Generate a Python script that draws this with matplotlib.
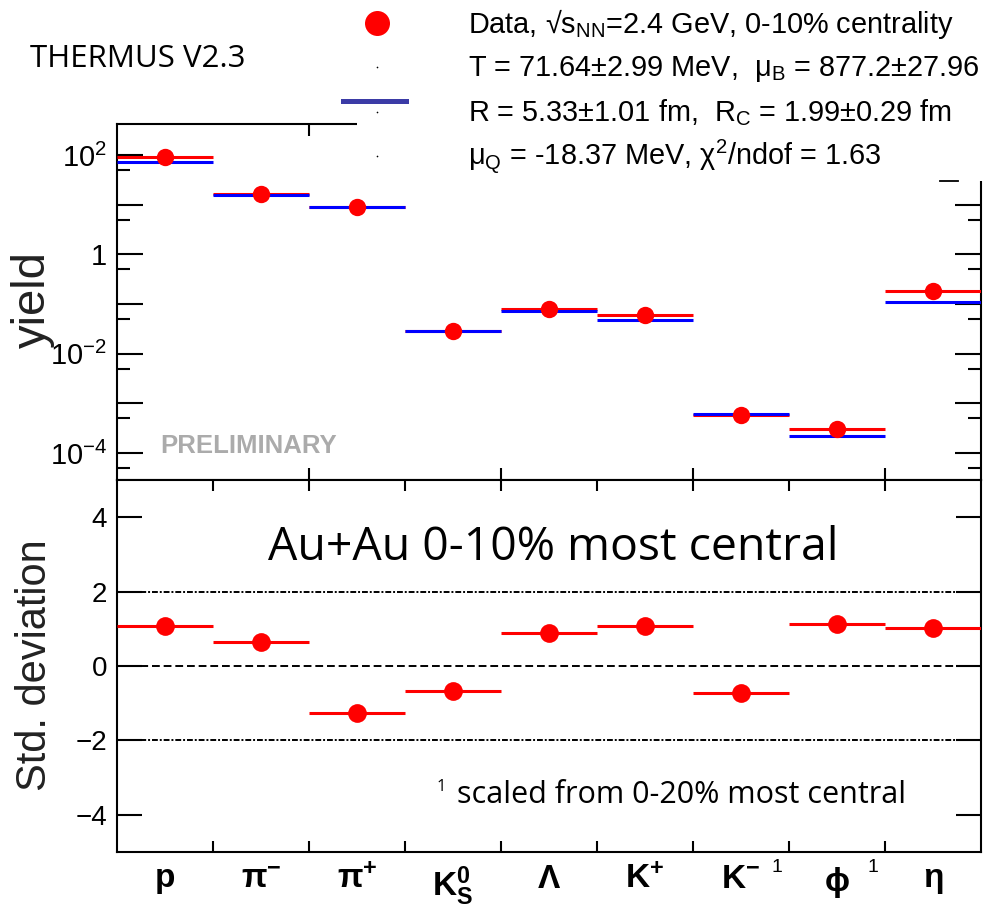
import numpy as np
import matplotlib
matplotlib.use("Agg")
import matplotlib.pyplot as plt
from matplotlib.patches import Rectangle
from matplotlib.lines import Line2D
from matplotlib.ticker import FixedLocator, NullFormatter

plt.rcParams['font.family'] = ['Liberation Sans', 'DejaVu Sans']
plt.rcParams['mathtext.fontset'] = 'custom'
plt.rcParams['mathtext.rm'] = 'Liberation Sans'
plt.rcParams['mathtext.it'] = 'Liberation Sans:italic'
plt.rcParams['mathtext.bf'] = 'Liberation Sans:bold'
plt.rcParams['mathtext.default'] = 'regular'

# particle species (one bin each)
particles = [r'$\mathbf{p}$', r'$\mathbf{\pi^{-}}$', r'$\mathbf{\pi^{+}}$',
             r'$\mathbf{K^{0}_{S}}$', r'$\mathbf{\Lambda}$', r'$\mathbf{K^{+}}$',
             r'$\mathbf{K^{-}}$', r'$\mathbf{\phi}$', r'$\mathbf{\eta}$']
scaled_flag = [0, 0, 0, 0, 0, 0, 1, 1, 0]

# yields: measured data and THERMUS fit
yield_data = [90, 16.6, 9.0, 0.0286, 0.0805, 0.0593, 5.8e-4, 3.05e-4, 0.183]
yield_model = [73, 15.3, 9.0, 0.0286, 0.0733, 0.0477, 6.2e-4, 2.2e-4, 0.110]

# deviation (data - model) / sigma
std_dev = [1.08, 0.65, -1.27, -0.66, 0.88, 1.08, -0.72, 1.14, 1.02]

W, H = 987, 907


def fx(x):
    return x / W


def fy(y):
    return 1 - y / H


fig = plt.figure(figsize=(W / 100, H / 100), dpi=100)
fig.patch.set_facecolor('white')

ax1 = fig.add_axes([fx(117), fy(480), fx(981) - fx(117), fy(124) - fy(480)])
ax2 = fig.add_axes([fx(117), fy(852), fx(981) - fx(117), fy(480) - fy(852)])

n = len(particles)
left = np.arange(n)
right = left + 1
centers = left + 0.5

# ---- top panel: yields
ax1.hlines(yield_data, left, right, color='red', lw=2.2, zorder=3)
ax1.hlines(yield_model, left, right, color='blue', lw=2.2, zorder=4)
ax1.plot(centers, yield_data, 'o', color='red', ms=12.5, mec='none', zorder=5)
ax1.set_yscale('log')
ax1.set_xlim(0, n)
ax1.set_ylim(10 ** -4.544, 10 ** 2.624)
ax1.yaxis.set_major_locator(FixedLocator([10.0 ** k for k in range(-4, 3)]))
ax1.yaxis.set_minor_locator(FixedLocator([5 * 10.0 ** k for k in range(-5, 2)]))
ax1.yaxis.set_minor_formatter(NullFormatter())
ax1.set_yticklabels([r'$10^{-4}$', '', r'$10^{-2}$', '', '1', '', r'$10^{2}$'])
ax1.set_xticks([2, 4, 6, 8])
ax1.set_xticklabels([])
ax1.tick_params(axis='y', which='major', direction='in', length=18.7, width=1.5,
                left=True, right=True, labelsize=21, pad=7)
ax1.tick_params(axis='y', which='minor', direction='in', length=9.4, width=1.5,
                left=True, right=True)
ax1.tick_params(axis='x', which='major', direction='in', length=8.6, width=1.5,
                top=True, bottom=True)
ax1.tick_params(axis='x', which='minor', bottom=False, top=False)
for s in ax1.spines.values():
    s.set_linewidth(1.5)
ax1.text(fx(160 - 117) / (fx(981) - fx(117)), 0.075, 'PRELIMINARY',
         transform=ax1.transAxes, fontsize=18.5, fontweight='bold',
         color='#ababab', ha='left', va='baseline')

# ---- bottom panel: standard deviation
ax2.axhline(2, color='black', lw=1.4, ls=(0, (3, 1, 1, 1)), zorder=1)
ax2.axhline(-2, color='black', lw=1.4, ls=(0, (3, 1, 1, 1)), zorder=1)
ax2.axhline(0, color='black', lw=1.4, ls=(0, (4, 2)), zorder=1)
ax2.hlines(std_dev, left, right, color='red', lw=2.2, zorder=3)
ax2.plot(centers, std_dev, 'o', color='red', ms=13.5, mec='none', zorder=4)
ax2.set_xlim(0, n)
ax2.set_ylim(-5, 5)
ax2.set_yticks([-4, -2, 0, 2, 4])
ax2.set_yticklabels(['\u22124', '\u22122', '0', '2', '4'])
ax2.set_xticks(np.arange(1, n))
ax2.set_xticklabels([])
ax2.set_xticks(centers, particles, minor=True)
ax2.tick_params(axis='y', direction='in', length=18, width=1.5, left=True,
                right=True, labelsize=20, pad=7)
ax2.tick_params(axis='x', which='major', direction='in', length=8, width=1.5,
                top=True, bottom=True)
ax2.tick_params(axis='x', which='minor', length=0, labelsize=24, pad=9)
for s in ax2.spines.values():
    s.set_linewidth(1.5)
for c, f in zip(centers, scaled_flag):
    if f:
        ax2.annotate('1', xy=(c, 0), xycoords=('data', 'axes fraction'),
                     xytext=(22, -5), textcoords='offset points',
                     fontsize=14, ha='left', va='top', annotation_clip=False)

# ---- axis titles and annotations
fig.text(fx(33), fy(300), 'yield', rotation=90, fontsize=34, ha='center',
         va='center', color='#222222')
fig.text(fx(35), fy(665), 'Std. deviation', rotation=90, fontsize=30,
         ha='center', va='center', color='#222222')
fig.text(fx(30), fy(67), 'THERMUS V2.3', fontsize=22.5, family='Open Sans',
         ha='left', va='baseline')
fig.text(fx(268), fy(560), 'Au+Au 0-10% most central', fontsize=33.4,
         family='Open Sans', ha='left', va='baseline', zorder=6)
fig.text(fx(437), fy(791), '1', fontsize=12, family='Open Sans', ha='left',
         va='baseline')
fig.text(fx(457), fy(803), 'scaled from 0-20% most central', fontsize=22,
         family='Open Sans', ha='left', va='baseline')

# ---- legend box (white, covering the top right corner)
fig.add_artist(Rectangle((fx(357), fy(181)), 1 - fx(357), 181 / H,
                         transform=fig.transFigure, facecolor='white',
                         edgecolor='none', zorder=5))
fig.add_artist(Line2D([fx(377)], [fy(23)], marker='o', ms=18, color='red',
                      mec='none', transform=fig.transFigure, zorder=6))
for yy in [67, 112, 156]:
    fig.add_artist(Line2D([fx(377)], [fy(yy)], marker='o', ms=1.2, color='black',
                          mec='none', transform=fig.transFigure, zorder=6))
fig.add_artist(Rectangle((fx(341), fy(104)), fx(409) - fx(341), 5 / H,
                         transform=fig.transFigure, facecolor='#3b3ba6',
                         edgecolor='none', zorder=6))
fig.add_artist(Line2D([fx(940), fx(958)], [fy(181), fy(181)], color='black',
                      lw=1.3, transform=fig.transFigure, zorder=6))

legend_lines = [
    'Data, \u221as$_{NN}$=2.4 GeV, 0-10% centrality',
    'T = 71.64\u00b12.99 MeV,  \u03bc$_{B}$ = 877.2\u00b127.96 MeV',
    'R = 5.33\u00b11.01 fm,  R$_{C}$ = 1.99\u00b10.29 fm',
    '\u03bc$_{Q}$ = -18.37 MeV, \u03c7$^{2}$/ndof = 1.63',
]
for txt, yy in zip(legend_lines, [33, 76, 121, 165]):
    fig.text(fx(468), fy(yy), txt, fontsize=20.8, ha='left', va='baseline',
             zorder=7)

fig.savefig('out.png', dpi=100)
